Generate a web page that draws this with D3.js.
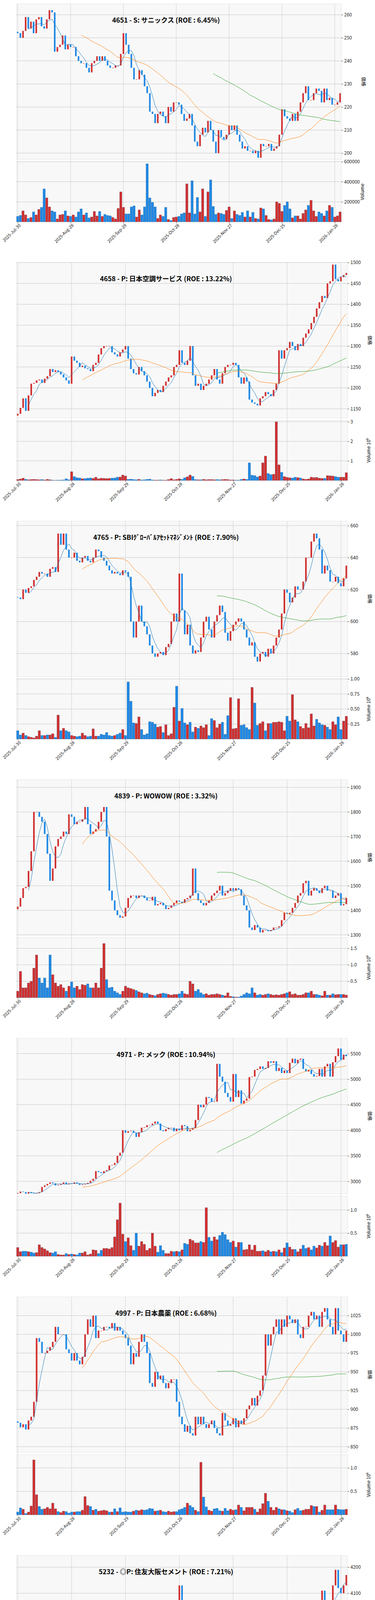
<!DOCTYPE html>
<html><head><meta charset="utf-8">
<script src="https://cdn.jsdelivr.net/npm/d3@7"></script>
<style>body{margin:0;background:#fff}svg{display:block}text{font-family:"Noto Sans CJK JP","Noto Sans",sans-serif}</style>
</head><body><svg id="c" width="960" height="6619"></svg>
<script>
const N = 123;
const dateTicks = ['2025-Jul-30','2025-Aug-28','2025-Sep-29','2025-Oct-28','2025-Nov-27','2025-Dec-25','2026-Jan-28'];

const titles = [
  '4651 - S: サニックス (ROE : 6.45%)',
  '4658 - P: 日本空調サービス (ROE : 13.22%)',
  '4765 - P: SBIｸﾞﾛｰﾊﾞﾙｱｾｯﾄﾏﾈｼﾞﾒﾝﾄ (ROE : 7.90%)',
  '4839 - P: WOWOW (ROE : 3.32%)',
  '4971 - P: メック (ROE : 10.94%)',
  '4997 - P: 日本農薬 (ROE : 6.68%)',
  '5232 - ◎P: 住友大阪セメント (ROE : 7.21%)',
  '5831 - ◎P: しずおかフィナンシャルG (ROE : 7.04%)',
  '5832 - P: ちゅうぎんフィナンシャルG (ROE : 5.18%)',
  '5844 - P: 京都フィナンシャルG (ROE : 3.62%)'
];

// closing prices
const close4651 = [252,250,253,259,254,257,252,258,259,255,254,258,262,261,244,246,247,251,245,247,
 246,246,242,240,239,239,237,235,239,240,242,240,242,240,238,237,237,238,238,243,
 252,247,243,237,232,232,236,234,229,226,218,217,213,217,218,216,213,220,218,222,
 222,221,217,214,215,217,212,205,203,208,211,209,214,210,205,200,210,207,206,208,
 212,210,212,208,205,202,203,201,201,200,201,198,204,203,203,204,201,202,203,208,
 219,216,215,214,217,214,218,222,226,229,223,223,226,228,227,222,228,223,224,221,221,222,226];
const close4658 = [1138,1152,1175,1145,1182,1210,1212,1218,1220,1212,1222,1228,1245,1238,1242,1238,1232,1225,1218,1210,
 1275,1265,1260,1250,1253,1247,1245,1240,1255,1260,1280,1295,1300,1300,1300,1285,1280,1275,1285,1292,
 1300,1270,1245,1235,1232,1250,1240,1230,1215,1200,1180,1188,1195,1190,1205,1215,1225,1230,1250,1255,
 1290,1260,1255,1265,1300,1230,1205,1210,1195,1205,1210,1220,1230,1245,1220,1210,1235,1250,1255,1255,
 1260,1255,1225,1210,1225,1215,1172,1165,1162,1158,1175,1180,1190,1185,1180,1195,1210,1290,1270,1290,
 1295,1310,1300,1290,1305,1300,1320,1330,1340,1355,1370,1390,1405,1420,1415,1450,1455,1495,1460,1455,1465,1470,1475];
const close4765 = [615,614,620,618,621,622,626,628,631,630,630,628,633,634,631,655,648,655,645,640,
 640,643,638,637,640,641,638,637,640,645,644,640,638,635,632,630,631,630,629,632,
 631,628,600,590,600,610,600,597,592,585,580,578,580,581,579,584,586,600,605,600,
 630,607,592,598,585,580,582,581,590,600,603,595,590,600,604,610,606,593,588,594,
 598,600,602,600,595,590,585,587,578,575,580,581,578,583,580,585,590,595,605,620,
 618,612,615,622,620,620,625,640,640,650,655,652,645,630,635,632,625,625,628,624,622,627,635];
const close4839 = [1415,1450,1490,1495,1560,1640,1800,1800,1780,1760,1710,1630,1520,1570,1660,1690,1700,1720,1710,1790,
 1780,1750,1760,1760,1770,1820,1750,1710,1720,1730,1760,1800,1820,1700,1480,1440,1400,1380,1370,1375,
 1410,1450,1460,1460,1450,1460,1460,1450,1440,1440,1455,1420,1425,1430,1420,1405,1410,1420,1430,1440,
 1435,1430,1445,1450,1460,1570,1470,1440,1430,1420,1430,1440,1460,1470,1480,1500,1460,1470,1480,1490,
 1480,1490,1485,1460,1420,1400,1330,1320,1340,1330,1310,1320,1320,1315,1320,1330,1330,1335,1360,1390,
 1385,1390,1410,1430,1460,1470,1510,1520,1460,1480,1490,1480,1470,1490,1500,1480,1480,1450,1460,1470,1420,1425,1450];
const close4971 = [2770,2800,2790,2760,2790,2770,2760,2770,2790,2890,2920,2950,2980,2960,2920,2930,2950,2980,2940,2960,
 2950,2980,2960,2930,2940,2950,2970,3010,3050,3200,3180,3160,3200,3220,3310,3320,3360,3500,3560,4000,
 3950,3980,3990,3950,3870,3960,4050,4060,4100,4100,4130,4170,4130,4000,3980,4020,4050,4050,3980,4030,
 4000,4100,4080,3980,4010,4040,4200,4500,4450,4500,4650,4630,4560,4560,5300,5050,4950,4730,4650,4560,
 5100,4650,4780,4520,4580,4620,5040,5050,5180,5200,5250,5200,5220,5350,5320,5350,5160,5220,5120,5170,
 5120,5320,5400,5310,5380,5400,5200,5150,5180,5100,5050,5060,5200,5050,5250,5300,5050,5330,5450,5600,5380,5480,5450];
const close4997 = [882,876,880,873,885,890,910,995,990,975,975,978,983,990,1010,1000,1000,1000,980,975,
 965,975,965,960,970,1000,1020,1010,1025,995,1005,1005,1010,1010,1008,1015,1005,1010,1005,1000,
 995,985,960,975,970,990,1000,990,975,935,930,950,940,945,935,928,935,940,940,910,
 890,880,870,878,868,865,890,880,890,880,875,880,885,875,868,865,895,885,878,880,
 888,876,885,880,888,900,905,915,905,918,925,945,1000,985,1000,1010,1020,1000,1020,1010,
 1025,1020,1015,1020,1000,995,1010,1010,1025,1030,1020,1025,1010,1030,1035,1020,1010,1000,1035,1005,1000,990,1005];
const close5232 = [3810,3900,3890,3910,3760,3730,3720,3830,3860,3830,3850,3870,3820,3900,3960,3870,3890,3870,3890,3850,
 3850,3890,3880,3890,3930,3960,3910,3950,4020,4010,3990,3920,3950,3950,3940,3930,3910,3960,3950,3990,
 3940,3850,3760,3740,3770,3820,3840,3830,3850,3800,3720,3760,3780,3750,3800,3820,3860,3980,4040,4060,
 4130,3960,3830,3850,3870,3830,3860,3880,3850,3940,3720,3790,3800,3850,3800,3760,3770,3790,3820,3750,
 3810,3850,3820,3760,3700,3690,3690,3750,3760,3780,3700,3720,3760,3750,3700,3740,3720,3740,3790,3850,
 3840,3860,3850,3830,3840,3860,3820,3840,3880,3890,3970,3980,4050,4110,4020,4050,4010,4130,4190,4120,4100,4130,4170];
const close5831 = [1715,1760,1780,1730,1750,1760,1800,1820,1880,1860,1850,1900,1880,1890,1870,1880,1930,1940,1920,1910,
 1925,1930,1910,1920,1900,1910,1920,1900,1880,1905,1920,1940,1950,1910,1900,1930,1940,1950,1960,2020,
 2040,2010,2000,2020,2030,2010,2020,2020,2000,1960,1990,2000,1980,2060,2070,2030,2020,2060,2050,2030,
 2060,2080,2070,2090,2120,2130,2110,2140,2100,2090,2100,2140,2150,2120,2160,2220,2220,2230,2270,2240,
 2250,2280,2340,2330,2300,2360,2350,2360,2340,2360,2340,2400,2440,2400,2390,2420,2440,2430,2450,2420,
 2440,2430,2440,2430,2460,2490,2570,2530,2520,2570,2590,2620,2640,2600,2580,2500,2520,2540,2470,2480,2470,2500,2490];
const close5832 = [1910,1940,1950,1920,1950,1980,2020,2035,2070,2050,2040,2080,2075,2065,2040,2050,2095,2110,2080,2070,
 2080,2075,2090,2100,2060,2070,2090,2085,2080,2100,2095,2110,2120,2090,2085,2090,2095,2110,2210,2190,
 2170,2120,2140,2150,2160,2120,2170,2180,2155,2120,2045,2080,2090,2060,2070,2110,2130,2120,2140,2120,
 2150,2160,2130,2140,2160,2150,2170,2170,2220,2200,2230,2250,2240,2200,2180,2140,2160,2180,2210,2240,
 2270,2300,2340,2320,2260,2330,2310,2320,2330,2310,2340,2350,2360,2420,2400,2360,2420,2460,2480,2470,
 2460,2460,2450,2470,2520,2550,2560,2600,2610,2690,2650,2700,2760,2750,2730,2740,2690,2760,2720,2700,2710,2760,2800];
const close5844 = [2670,2710,2670,2610,2690,2710,2720,2760,2810,2800,2780,2800,2880,2830,2840,2860,2850,2870,2900,2880,
 2870,2900,2900,2880,2890,2900,2800,2830,2860,2870,2880,2930,2890,2920,2940,2960,2990,3000,3050,3080,
 3180,3200,3140,3120,3140,3130,3150,3180,3200,3160,3140,3050,3060,3050,3020,3080,3120,3140,3140,3130,
 3150,3260,3160,3010,3130,3150,3130,3170,3180,3290,3230,3200,3210,3260,3320,3260,3350,3230,3260,3230,
 3200,3250,3270,3300,3340,3380,3440,3380,3300,3330,3430,3410,3420,3400,3430,3390,3400,3530,3420,3370,
 3420,3380,3480,3460,3420,3430,3450,3430,3450,3480,3560,3490,3480,3520,3500,3580,3560,3680,3600,3660,3730,3680,3750];

// volumes in thousands of shares
const vol4651 = [55,65,110,70,35,45,100,70,125,145,330,240,150,110,100,30,70,75,110,60,
 55,70,50,100,130,70,90,40,50,105,60,105,55,75,65,60,45,30,135,300,
 145,80,80,150,160,50,120,70,150,580,240,195,150,35,70,55,145,25,15,45,
 50,55,80,90,380,90,410,80,245,100,330,55,300,420,155,75,90,85,75,115,
 150,35,110,75,65,95,50,110,50,95,35,30,140,130,65,25,20,30,200,185,
 105,165,200,130,40,60,60,30,85,120,165,215,110,55,100,85,60,110,165,145,50,60,100];
const vol4658 = [50,80,120,60,40,50,60,50,40,50,30,60,40,20,10,20,20,30,90,40,
 450,200,140,130,90,100,120,130,110,170,90,120,110,100,110,120,130,170,180,280,
 230,60,70,50,40,60,30,40,60,70,30,20,20,30,20,20,50,100,40,60,
 90,60,140,190,280,210,50,40,40,60,40,50,50,40,50,40,50,60,50,30,
 30,20,20,60,80,60,900,270,250,180,230,900,1250,360,300,320,3000,800,420,200,
 160,140,130,170,150,130,80,60,80,170,150,160,120,110,110,250,240,230,200,170,170,170,400];
const vol4765 = [140,70,100,60,40,30,20,50,140,60,60,70,70,90,30,400,140,180,140,120,
 60,50,40,50,100,60,40,50,170,50,50,80,70,110,60,50,60,80,100,160,
 60,950,630,270,260,370,160,70,90,290,280,250,200,210,110,240,60,90,530,880,
 300,510,270,240,280,120,200,180,220,190,240,60,340,310,190,250,280,80,390,690,
 170,180,670,230,240,190,160,860,600,230,260,290,140,260,260,280,280,290,280,140,
 380,300,740,320,290,210,180,260,190,420,220,330,270,240,230,200,160,290,240,370,160,300,380];
const vol4839 = [200,800,300,300,450,500,900,1300,600,450,600,300,1300,700,450,350,400,300,200,350,
 480,300,350,250,400,380,420,300,300,450,300,900,1650,550,300,320,200,150,100,200,
 350,300,280,250,220,180,150,120,140,100,80,60,100,120,140,120,100,80,100,100,
 120,200,120,100,500,420,200,250,150,100,120,80,100,100,120,100,80,60,150,40,
 30,20,20,50,100,150,120,300,150,80,100,80,100,120,100,80,90,80,100,120,
 150,180,100,120,80,80,100,150,150,200,100,100,80,60,200,80,80,120,90,100,100,100,80,60,480];
const vol4971 = [190,100,110,110,100,90,70,80,250,190,160,120,80,70,100,40,30,30,60,40,
 50,40,30,70,70,100,30,50,140,130,60,130,170,170,160,190,420,790,1150,480,
 320,400,230,130,500,220,320,260,130,170,500,220,90,230,130,60,60,110,100,110,
 100,140,280,260,370,340,290,290,320,300,1050,410,330,420,360,450,520,470,360,300,
 330,200,300,300,140,150,250,140,240,110,110,120,100,130,100,110,100,140,80,180,
 290,200,150,150,100,160,240,170,190,140,220,180,240,220,300,230,440,300,340,200,250,250,260];
const vol4997 = [60,150,120,30,60,190,1170,430,180,120,130,160,130,250,130,70,50,80,70,40,
 60,60,70,70,100,390,200,180,100,120,80,90,100,90,60,60,130,70,150,60,
 70,60,60,80,100,90,110,100,110,140,130,80,90,100,70,60,80,60,70,70,
 110,130,160,250,200,160,100,70,1120,380,170,100,80,130,140,90,80,140,90,120,
 100,110,210,160,90,160,160,160,120,60,130,240,460,290,160,100,160,130,110,110,
 90,80,50,110,140,90,100,120,120,200,180,180,60,100,210,110,110,110,210,120,110,110,120];
const vol5232 = [190,350,260,440,930,550,310,430,340,280,260,300,350,340,220,300,280,250,290,240,
 380,260,250,280,210,240,330,230,220,260,280,290,140,200,120,130,140,120,100,150,
 170,150,140,150,130,110,90,120,190,100,90,90,150,280,330,130,240,340,300,150,
 140,120,90,110,100,80,70,200,780,370,140,140,110,130,120,110,160,140,120,110,
 130,130,110,120,120,130,100,200,180,160,120,100,110,120,100,80,100,120,100,150,
 190,180,140,60,80,70,90,120,130,150,130,150,110,180,170,130,170,110,80,100,130,180,120];
const vol5831 = [1500,1450,1350,1400,1000,1150,1800,2050,2100,1500,1300,1450,1350,1250,1300,1050,2000,1300,2000,1050,
 1050,1100,1450,1350,1400,1250,1200,1150,1300,1450,1350,1800,1350,1200,1250,5000,1250,2350,1450,2050,
 1500,1600,1800,1150,1000,2900,1050,1100,800,1400,2050,1200,1100,1350,1450,700,850,750,1550,1300,
 1400,1000,1500,1900,1500,2350,2650,2500,1550,1400,1550,1650,1750,2550,1850,2100,1400,1600,1600,1650,
 1750,1800,3700,2000,1800,1700,1600,1550,1950,1800,1800,1750,1300,1800,1500,1700,1650,1300,700,800,
 1200,1100,1700,1800,1500,1550,1650,1800,1750,1700,1550,1550,1800,1300,1600,1850,2000,1700,1550,1500,1400,1700,1400];
const vol5832 = [580,610,400,410,340,260,300,320,310,380,300,340,380,250,390,150,220,270,410,270,
 270,230,210,240,380,150,280,280,200,200,150,380,170,190,170,550,240,340,450,450,
 340,380,330,380,240,480,250,220,250,370,320,210,180,180,150,130,250,170,200,260,
 320,160,320,300,260,380,320,320,350,180,230,210,440,420,440,580,460,350,250,330,
 270,240,270,480,380,470,250,190,220,300,250,370,340,300,260,590,500,470,390,250,
 250,270,240,310,490,320,520,230,270,310,530,300,250,310,260,310,260,300,380,340,320,280,440];
const vol5844 = [950,900,900,1050,890,760,700,760,880,680,600,1020,730,650,690,380,520,570,570,450,
 590,530,400,430,780,890,720,560,560,610,510,760,660,960,780,2180,660,1050,860,1710,
 1560,1290,920,500,590,1280,680,480,480,740,860,520,450,510,500,510,410,410,410,700,
 790,750,2520,810,960,1160,860,720,410,330,500,670,960,1140,770,630,690,1080,630,820,
 550,420,640,570,540,500,340,310,330,510,610,620,580,620,490,1150,490,380,520,310,
 460,460,410,450,590,500,410,450,720,860,860,960,620,520,920,920,780,880,790,510,660,800,520];

const closes = [close4651,close4658,close4765,close4839,close4971,close4997,close5232,close5831,close5832,close5844];
const volumes = [vol4651,vol4658,vol4765,vol4839,vol4971,vol4997,vol5232,vol5831,vol5832,vol5844];
const priceDomains = [[197.3,264.7],[1128,1500],[565.6,662.8],[1299,1931],[2757,5800],[842.5,1050],[3648,4245],[1748,2700],[1876,2860],[2590,3790]];
const priceTicks = [[200,210,220,230,240,250,260],[1150,1200,1250,1300,1350,1400,1450,1500],[580,600,620,640,660],
 [1300,1400,1500,1600,1700,1800,1900],[3000,3500,4000,4500,5000,5500],[850,875,900,925,950,975,1000,1025],
 [3700,3800,3900,4000,4100,4200],[1800,2000,2200,2400,2600],[2000,2200,2400,2600,2800],[2600,2800,3000,3200,3400,3600]];
const volDomains = [[0,600],[0,3070],[0,1000],[0,1830],[0,1300],[0,1280],[0,1000],[240,5900],[40,615],[100,2560]];
const volTicks = [[200,400,600],[1000,2000,3000],[250,500,750,1000],[500,1000,1500],[500,1000],[500,1000],
 [200,400,600,800,1000],[2000,4000],[200,400,600],[1000,2000]];
const volFmt = [d=>d*1000, d=>d/1000, d=>(d/1000).toFixed(2), d=>(d/1000).toFixed(1), d=>(d/1000).toFixed(1),
 d=>(d/1000).toFixed(1), d=>(d/1000).toFixed(1), d=>d/1000, d=>d*1000, d=>d/1000];

const UP = '#d03030', DOWN = '#1e88e5';
const svg = d3.select('#c');
const PH = 662;

function sma(arr, n) {
  return arr.map((v, i) => i < n - 1 ? null : d3.mean(arr.slice(i - n + 1, i + 1)));
}

closes.forEach((cl, k) => {
  const g = svg.append('g').attr('transform', `translate(0,${k * PH})`);
  const left = 42, right = (k === 0 || k === 8) ? 874 : 890;
  const x = d3.scaleLinear().domain([-0.5, N - 0.5]).range([left, right]);
  const y = d3.scaleLinear().domain(priceDomains[k]).range([408, 10]);
  const yv = d3.scaleLinear().domain(volDomains[k]).range([568, 414]);
  const bw = (x(1) - x(0));

  [[10, 408], [414, 568]].forEach(([t, b]) => {
    g.append('rect').attr('x', left).attr('y', t).attr('width', right - left).attr('height', b - t)
      .attr('fill', '#f8f8f8').attr('stroke', '#e4e4e4');
  });
  // gridlines
  const tickIdx = d3.range(0, 121, 20);
  tickIdx.forEach(i => {
    g.append('line').attr('x1', x(i)).attr('x2', x(i)).attr('y1', 10).attr('y2', 568)
      .attr('stroke', '#d6d6d6').attr('stroke-width', 1.2);
  });
  priceTicks[k].forEach(t => g.append('line').attr('x1', left).attr('x2', right).attr('y1', y(t)).attr('y2', y(t))
    .attr('stroke', '#d6d6d6').attr('stroke-width', 1.5));
  volTicks[k].forEach(t => g.append('line').attr('x1', left).attr('x2', right).attr('y1', yv(t)).attr('y2', yv(t))
    .attr('stroke', '#d6d6d6').attr('stroke-width', 1.5));

  const opens = cl.map((c, i) => i === 0 ? c - (cl[1] - c) * 0.3 : cl[i - 1]);
  const col = i => cl[i] >= opens[i] ? UP : DOWN;

  // volume
  g.append('g').selectAll('rect').data(volumes[k].slice(0, N)).join('rect')
    .attr('x', (d, i) => x(i) - bw * 0.45).attr('width', bw * 0.9)
    .attr('y', d => yv(Math.max(d, volDomains[k][0]))).attr('height', d => 568 - yv(Math.max(d, volDomains[k][0])))
    .attr('fill', (d, i) => col(i)).attr('stroke', '#2a4a6a').attr('stroke-width', 0.3);

  // candles
  g.append('g').selectAll('rect').data(cl).join('rect')
    .attr('x', (d, i) => x(i) - bw * 0.3).attr('width', bw * 0.6)
    .attr('y', (d, i) => y(Math.max(d, opens[i])))
    .attr('height', (d, i) => Math.max(1, Math.abs(y(d) - y(opens[i]))))
    .attr('fill', (d, i) => col(i));

  // moving averages
  [[5, '#1f77b4'], [25, '#ff7f0e'], [75, '#2ca02c']].forEach(([n, c]) => {
    const m = sma(cl, n);
    g.append('path').datum(m.map((v, i) => [i, v]).filter(d => d[1] !== null))
      .attr('d', d3.line().x(d => x(d[0])).y(d => y(d[1])))
      .attr('fill', 'none').attr('stroke', c).attr('stroke-width', 1);
  });

  // axes
  const ay = g.append('g').attr('transform', `translate(${right},0)`)
    .call(d3.axisRight(y).tickValues(priceTicks[k]).tickSize(4).tickFormat(d => String(d)));
  const av = g.append('g').attr('transform', `translate(${right},0)`)
    .call(d3.axisRight(yv).tickValues(volTicks[k]).tickSize(4).tickFormat(volFmt[k]));
  const ax = g.append('g').attr('transform', 'translate(0,568)')
    .call(d3.axisBottom(x).tickValues(tickIdx).tickSize(4).tickFormat((d, i) => dateTicks[i]));
  [ay, av, ax].forEach(a => {
    a.select('.domain').remove();
    a.selectAll('text').attr('font-size', 12).attr('fill', '#222');
    a.selectAll('line').attr('stroke', '#444');
  });
  ax.selectAll('text').attr('font-size', 11).attr('text-anchor', 'end').attr('dx', '-0.1em').attr('dy', '0.5em')
    .attr('transform', 'rotate(-45)');

  g.append('text').attr('transform', `translate(${right + 52},${(10 + 408) / 2}) rotate(90)`)
    .attr('text-anchor', 'middle').attr('font-size', 12).text('価格');
  g.append('text').attr('transform', `translate(${right + 58},${(414 + 568) / 2}) rotate(-90)`)
    .attr('text-anchor', 'middle').attr('font-size', 12)
    .text((k === 0 || k === 8) ? 'Volume' : 'Volume  10⁶');

  g.append('text').attr('x', 425).attr('y', 58).attr('text-anchor', 'middle')
    .attr('font-size', 17).attr('font-weight', 'bold').text(titles[k]);
});
</script></body></html>
